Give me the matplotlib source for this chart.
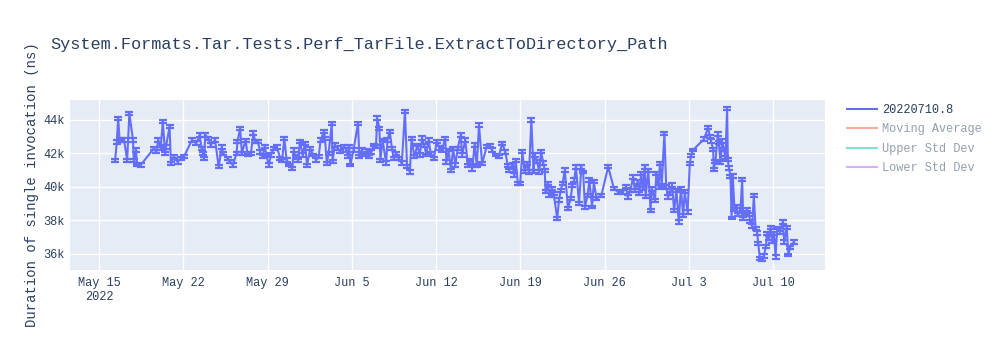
import numpy as np
import pandas as pd
import matplotlib
matplotlib.use('Agg')
import matplotlib.pyplot as plt
import matplotlib.dates as mdates
from matplotlib.lines import Line2D
from matplotlib.ticker import FuncFormatter

plt.rcParams['font.family'] = ['Liberation Mono', 'DejaVu Sans Mono']

title = 'System.Formats.Tar.Tests.Perf_TarFile.ExtractToDirectory_Path'
y_title = 'Duration of single invocation (ns)'
legend_names = ['20220710.8', 'Moving Average', 'Upper Std Dev', 'Lower Std Dev']
legend_colors = ['#636efa', '#ef553b', '#00cc96', '#ab63fa']
start = pd.Timestamp('2022-05-15')

# days after May 15 2022
days = [
    1.34, 1.48, 1.59, 1.71, 2.08, 2.34, 2.52, 2.82, 2.89, 3.08,
    3.15, 3.45, 4.56, 4.75, 4.93, 5.12, 5.30, 5.49, 5.56, 5.86,
    5.97, 6.23, 6.53, 6.79, 7.05, 7.72, 8.09, 8.35, 8.53, 8.64,
    8.72, 8.83, 9.09, 9.27, 9.64, 9.94, 10.20, 10.31, 10.68, 10.87,
    11.13, 11.42, 11.50, 11.72, 11.87, 12.17, 12.35, 12.61, 12.83, 12.98,
    13.20, 13.39, 13.58, 13.76, 13.91, 14.10, 14.28, 14.50, 14.76, 15.06,
    15.21, 15.39, 15.58, 15.80, 16.06, 16.17, 16.32, 16.51, 16.69, 16.91,
    17.10, 17.28, 17.54, 17.80, 18.03, 18.25, 18.40, 18.69, 18.77, 18.92,
    19.07, 19.33, 19.40, 19.58, 19.84, 20.03, 20.33, 20.55, 20.70, 20.77,
    20.88, 21.14, 21.51, 21.62, 21.81, 22.00, 22.26, 22.44, 22.63, 22.81,
    23.00, 23.11, 23.29, 23.37, 23.55, 23.85, 23.96, 24.15, 24.33, 24.48,
    24.70, 24.89, 25.15, 25.41, 25.59, 25.82, 25.96, 26.19, 26.45, 26.63,
    26.85, 27.00, 27.19, 27.37, 27.56, 27.82, 28.04, 28.30, 28.49, 28.75,
    28.86, 29.04, 29.23, 29.41, 29.60, 29.79, 30.04, 30.16, 30.42, 30.64,
    30.79, 31.01, 31.19, 31.38, 31.56, 31.82, 32.20, 32.46, 32.64, 32.94,
    33.20, 33.49, 33.75, 33.94, 34.05, 34.35, 34.50, 34.61, 34.79, 34.98,
    35.16, 35.35, 35.53, 35.72, 35.91, 36.09, 36.20, 36.39, 36.57, 36.72,
    36.91, 37.02, 37.09, 37.28, 37.39, 37.61, 37.76, 38.06, 38.20, 38.35,
    38.50, 38.69, 38.95, 39.17, 39.32, 39.47, 39.61, 39.87, 40.06, 40.21,
    40.36, 40.58, 40.73, 40.95, 41.10, 41.32, 41.73, 42.29, 42.77, 43.14,
    43.51, 43.77, 43.92, 44.14, 44.36, 44.51, 44.73, 44.88, 45.03, 45.18,
    45.33, 45.40, 45.62, 45.81, 45.92, 46.18, 46.29, 46.48, 46.59, 46.74,
    46.96, 47.11, 47.26, 47.40, 47.59, 47.77, 47.96, 48.15, 48.33, 48.52,
    48.65, 48.89, 49.07, 49.18, 49.33, 50.23, 50.60, 50.73, 50.84, 51.01,
    51.06, 51.20, 51.40, 51.48, 51.62, 51.76, 51.90, 52.03, 52.17, 52.23,
    52.31, 52.45, 52.54, 52.64, 52.78, 52.95, 53.06, 53.28, 53.42, 53.50,
    53.62, 53.84, 53.97, 54.11, 54.25, 54.39, 54.53, 54.67, 54.75, 54.89,
    55.03, 55.22, 55.39, 55.50, 55.64, 55.78, 55.92, 56.05, 56.19, 56.33,
    56.56, 56.78, 56.92, 57.12, 57.26, 57.40, 57.70,
]

# mean duration (ns)
mean_ns = [
    41600, 42700, 44100, 42800, 42800, 41600, 44400, 42800, 41600, 42200,
    41300, 41300, 42300, 42100, 42800, 42300, 43900, 42000, 42400, 43600,
    41400, 41800, 41500, 41700, 41800, 42800, 42600, 43100, 42300, 42000,
    41700, 43100, 42900, 42500, 42800, 41200, 42400, 42000, 41700, 41500,
    41300, 42000, 42700, 43500, 42000, 42800, 41900, 42000, 43200, 42700,
    42700, 42100, 41800, 42400, 41900, 41300, 41900, 42300, 42400, 41700,
    41600, 42900, 41600, 41300, 41100, 42200, 41800, 41600, 42700, 41900,
    42600, 41300, 42300, 41900, 41600, 41800, 42800, 43300, 42900, 41400,
    42000, 43800, 41500, 42500, 42300, 42100, 42400, 42200, 41800, 42400,
    41300, 42200, 43800, 41800, 42200, 41900, 42200, 41800, 42100, 42500,
    42400, 44100, 43500, 41600, 42800, 41400, 42800, 43300, 42300, 41700,
    42000, 41700, 41400, 44500, 41200, 40900, 42900, 41800, 42500, 41900,
    42900, 42500, 41900, 42800, 42000, 41700, 42700, 42300, 42200, 42900,
    41500, 42200, 41000, 42300, 41300, 42300, 43100, 41900, 42800, 41300,
    41600, 41100, 42500, 41300, 43700, 41400, 42400, 42500, 42200, 41900,
    41800, 42600, 42100, 41300, 41000, 41300, 40700, 41600, 40200, 40200,
    42100, 40900, 41400, 40900, 44000, 40900, 41900, 41500, 40900, 42100,
    41400, 41000, 39700, 40200, 39500, 39900, 39600, 38100, 39200, 39800,
    40200, 41000, 38700, 39300, 40100, 40400, 41200, 39000, 41200, 40900,
    38800, 39500, 40400, 38800, 40300, 39300, 39500, 41200, 39900, 39700,
    39700, 40000, 39400, 39800, 40600, 39800, 40300, 39600, 40800, 39900,
    41200, 39400, 41000, 38600, 39900, 39200, 40800, 40000, 41400, 40100,
    43200, 40000, 39400, 39600, 40100, 38600, 39800, 37900, 39900, 38300,
    39700, 38500, 41400, 41900, 42200, 42840, 43540, 43040, 42740, 42240,
    41040, 41540, 43140, 42640, 41440, 42740, 42240, 41740, 44680, 41640,
    41140, 40640, 38140, 40640, 38640, 38840, 38340, 38640, 40440, 38140,
    38440, 38640, 38340, 37940, 37640, 39480, 37540, 37240, 36640, 35740,
    35680, 35880, 36440, 37240, 36940, 37580, 36740, 37240, 35840, 37540,
    37300, 37900, 36720, 37600, 35930, 36400, 36700,
]

# error bar half width (ns)
err_ns = [
    90, 110, 80, 120, 100, 90, 80, 110, 90, 100,
    80, 120, 100, 90, 110, 80, 90, 100, 120, 80,
    90, 100, 110, 90, 80, 100, 120, 90, 80, 110,
    100, 90, 80, 120, 100, 90, 110, 80, 100, 90,
    120, 80, 90, 100, 110, 90, 80, 100, 120, 90,
    80, 110, 100, 90, 80, 120, 100, 90, 110, 80,
    90, 100, 120, 80, 90, 110, 100, 90, 80, 120,
    100, 90, 110, 80, 100, 90, 120, 80, 90, 100,
    110, 90, 80, 100, 120, 90, 80, 110, 100, 90,
    80, 120, 100, 90, 110, 80, 90, 100, 120, 80,
    90, 110, 100, 90, 80, 120, 100, 90, 110, 80,
    100, 90, 120, 80, 90, 100, 110, 90, 80, 100,
    120, 90, 80, 110, 100, 90, 80, 120, 100, 90,
    110, 80, 90, 100, 120, 80, 90, 110, 100, 90,
    80, 120, 100, 90, 110, 80, 100, 90, 120, 80,
    90, 100, 110, 90, 80, 100, 120, 90, 80, 110,
    100, 90, 80, 120, 100, 90, 110, 80, 100, 90,
    120, 80, 90, 100, 110, 90, 80, 100, 120, 90,
    80, 110, 100, 90, 80, 120, 100, 90, 110, 80,
    90, 100, 120, 80, 90, 110, 100, 90, 80, 120,
    100, 90, 110, 80, 100, 90, 120, 80, 90, 100,
    110, 90, 80, 100, 120, 90, 80, 110, 100, 90,
    80, 120, 100, 90, 110, 80, 90, 100, 120, 80,
    90, 110, 100, 90, 80, 120, 100, 90, 110, 80,
    100, 90, 120, 80, 90, 100, 110, 90, 80, 100,
    120, 90, 80, 110, 100, 90, 80, 120, 100, 90,
    110, 80, 90, 100, 120, 80, 90, 110, 100, 90,
    80, 120, 100, 90, 110, 80, 100, 90, 120, 80,
    90, 100, 110, 90, 80, 100, 120,
]

assert len(days) == len(mean_ns) == len(err_ns)

TEXT = '#2a3f5f'
dates = start + pd.to_timedelta(days, unit='D')

fig = plt.figure(figsize=(10, 3.5), dpi=100)
ax = fig.add_axes([0.07, 1 - 270 / 350, 0.755, 170 / 350])
ax.set_facecolor('#e5ecf6')
for s in ax.spines.values():
    s.set_visible(False)
ax.grid(True, color='white', linewidth=1)
ax.set_axisbelow(True)

ax.errorbar(dates, mean_ns, yerr=err_ns, color='#636efa', linewidth=1.5,
            elinewidth=1.5, capsize=3, capthick=1.6, zorder=3)

# axis ranges
ax.set_xlim(start - pd.Timedelta(days=2.41), start + pd.Timedelta(days=60.3))
ax.set_ylim(35040, 45190)

ticks = pd.date_range('2022-05-15', '2022-07-10', freq='7D')
labels = [f'{d:%b} {d.day}' for d in ticks]
labels[0] += '\n2022'
ax.set_xticks(ticks)
ax.set_xticklabels(labels)
ax.set_yticks([36000, 38000, 40000, 42000, 44000])
ax.yaxis.set_major_formatter(FuncFormatter(lambda v, p: f'{int(v / 1000)}k'))
ax.tick_params(length=0, labelsize=8.6, labelcolor=TEXT)
ax.tick_params(axis='x', pad=5)
ax.tick_params(axis='y', pad=4)

fig.text(0.05, 1 - 45 / 350, title, fontsize=12.2, color=TEXT, va='center', ha='left')
fig.text(0.032, 1 - 185 / 350, y_title, fontsize=10, color=TEXT, rotation=90,
         va='center', ha='center')

handles = []
for i, c in enumerate(legend_colors):
    handles.append(Line2D([], [], color=c, linewidth=1.5, alpha=1.0 if i == 0 else 0.5))
leg = fig.legend(handles, legend_names, loc='upper left', bbox_to_anchor=(0.847, 1 - 104 / 350),
                 frameon=False, fontsize=8.6, handlelength=2.5, handletextpad=0.45,
                 labelspacing=0.62, borderpad=0, borderaxespad=0)
for i, t in enumerate(leg.get_texts()):
    t.set_color(TEXT)
    if i > 0:
        t.set_alpha(0.5)

fig.savefig('out.png', dpi=100)
